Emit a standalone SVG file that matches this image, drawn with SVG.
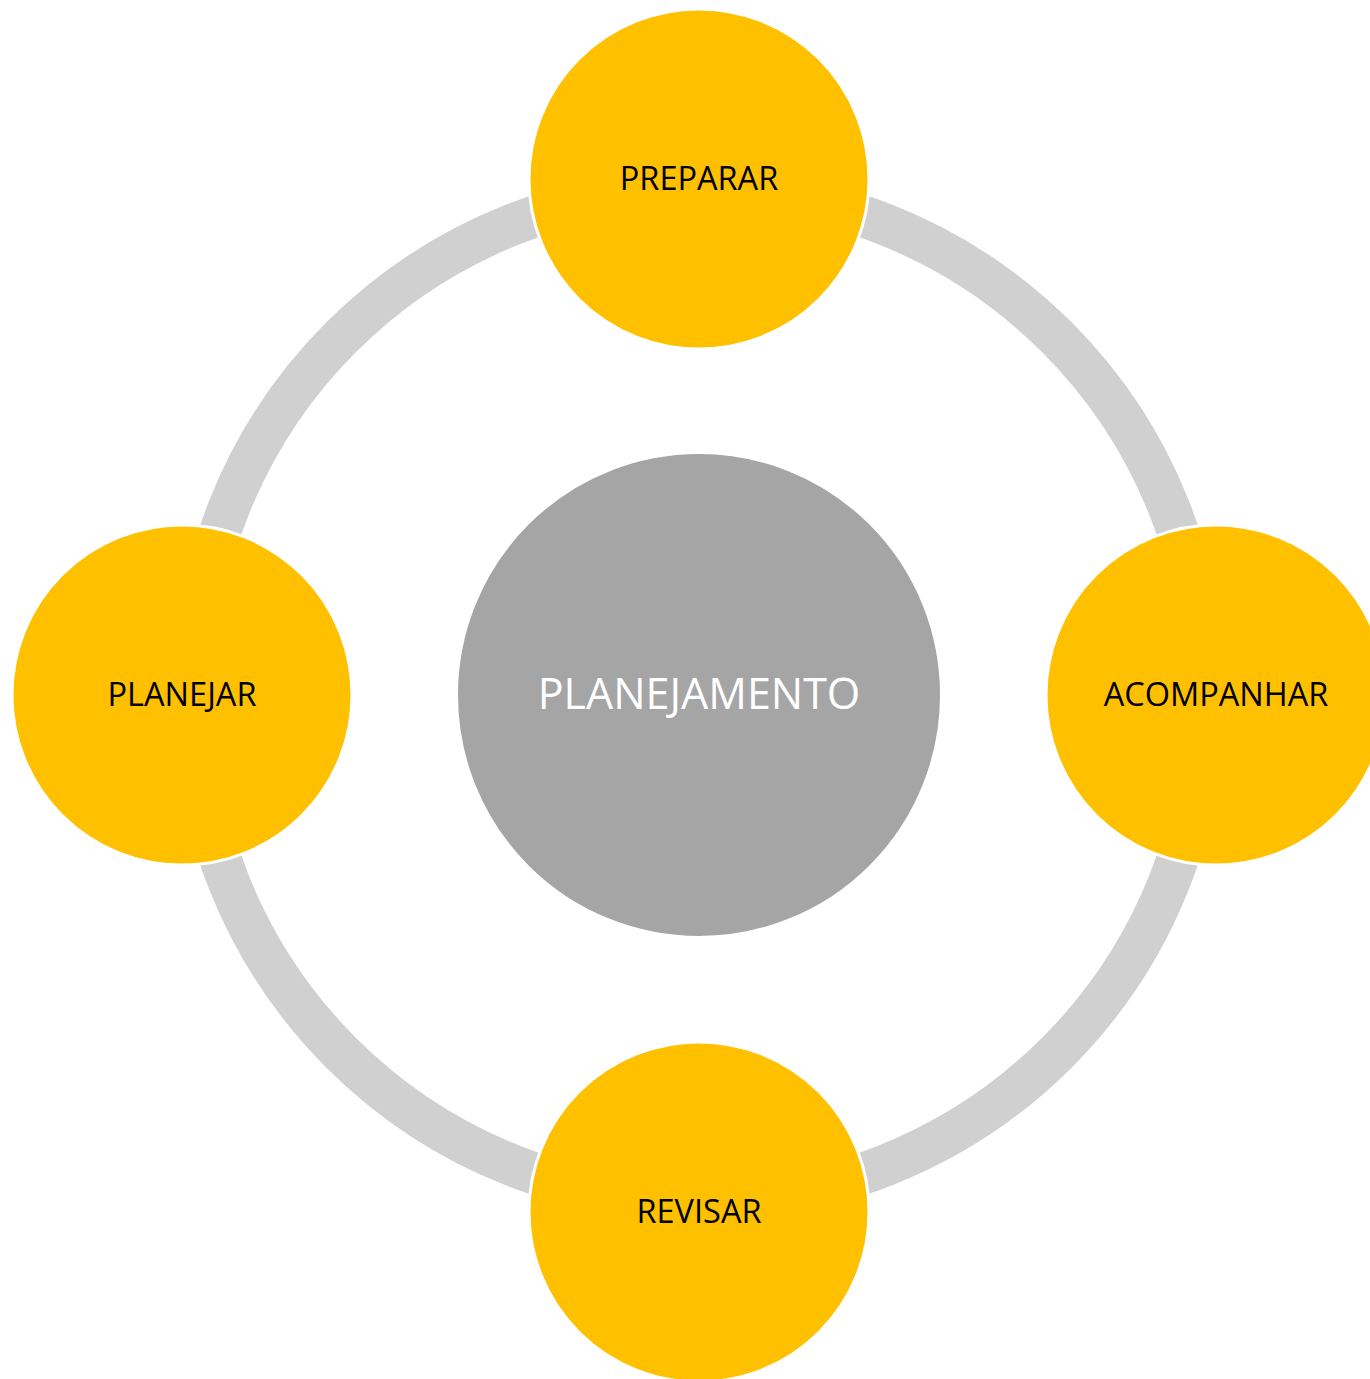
<svg xmlns="http://www.w3.org/2000/svg" width="1370" height="1379" viewBox="0 0 1370 1379">
<style>
.ring{fill:none;stroke:#D0D0D0;stroke-width:42}
.node{fill:#FFC000;stroke:#FFFFFF;stroke-width:3}
.hub{fill:#A5A5A5;stroke:#FFFFFF;stroke-width:2}
.lbl{font-family:"Open Sans","Liberation Sans",sans-serif;font-size:32.5px;fill:#000000;text-anchor:middle}
.hublbl{font-family:"Open Sans","Liberation Sans",sans-serif;font-size:43px;fill:#FFFFFF;text-anchor:middle}
</style>
<rect width="1370" height="1379" fill="#FFFFFF"/>
<g id="connectors">
<circle class="ring" cx="699" cy="695" r="506"/>
</g>
<g id="hub">
<circle class="hub" cx="699" cy="695" r="242"/>
<text class="hublbl" x="699" y="709">PLANEJAMENTO</text>
</g>
<g id="preparar">
<circle class="node" cx="699" cy="179" r="170"/>
<text class="lbl" x="699" y="190">PREPARAR</text>
</g>
<g id="acompanhar">
<circle class="node" cx="1216" cy="695" r="170"/>
<text class="lbl" x="1216" y="706">ACOMPANHAR</text>
</g>
<g id="revisar">
<circle class="node" cx="699" cy="1212" r="170"/>
<text class="lbl" x="699" y="1223">REVISAR</text>
</g>
<g id="planejar">
<circle class="node" cx="182" cy="695" r="170"/>
<text class="lbl" x="182" y="706">PLANEJAR</text>
</g>
</svg>
